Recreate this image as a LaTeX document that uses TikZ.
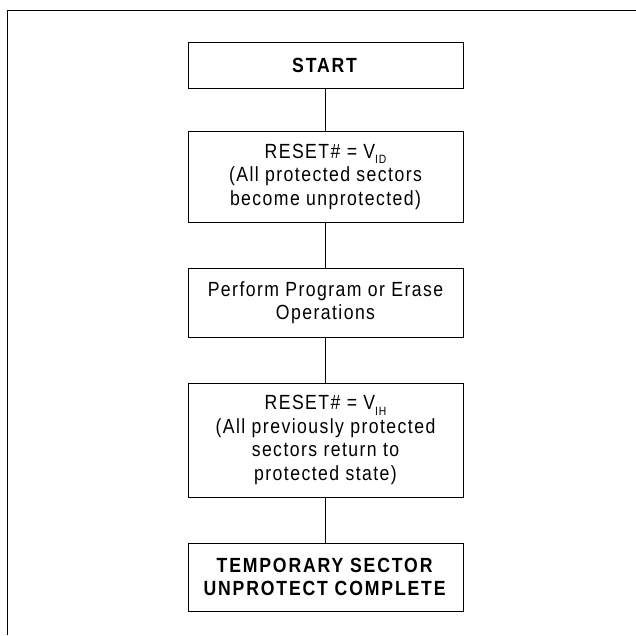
\documentclass[tikz,border=0pt]{standalone}
\usepackage{fontspec}
\setmainfont{Liberation Sans}[FakeStretch=0.86,LetterSpace=7,BoldFeatures={LetterSpace=9}]
\newcommand{\subtxt}[1]{\raisebox{-5.6pt}{\fontsize{12}{12}\selectfont #1}}
\begin{document}
\begin{tikzpicture}[x=1pt,y=1pt,
  flowbox/.style={draw=black,line width=1pt,minimum width=275pt,inner sep=0pt,align=center,
    font=\fontsize{20.5}{23.5}\selectfont},
  conn/.style={line width=1.2pt,black},
  frameline/.style={line width=1.5pt,black}]
\useasboundingbox (0,0) rectangle (636,-635);
\coordinate (ftr) at (636,-10.5);
\coordinate (ftl) at (7.5,-10.5);
\coordinate (fbl) at (7.5,-635);
\draw[frameline] (ftr) -- (ftl) -- (fbl);
\node[flowbox,minimum height=46pt] (b1) at (325.5,-65) {\textbf{START}};
\node[flowbox,minimum height=91pt] (b2) at (325.5,-176.5) {RESET\# = V\subtxt{ID}\\(All protected sectors\\become unprotected)};
\node[flowbox,minimum height=69pt] (b3) at (325.5,-302.5) {Perform Program or Erase\\Operations};
\node[flowbox,minimum height=114pt] (b4) at (325.5,-440) {RESET\# = V\subtxt{IH}\\(All previously protected\\sectors return to\\protected state)};
\node[flowbox,minimum height=68pt] (b5) at (325.5,-577) {\textbf{TEMPORARY SECTOR}\\\textbf{UNPROTECT COMPLETE}};
\draw[conn] (b1.south) -- (b2.north);
\draw[conn] (b2.south) -- (b3.north);
\draw[conn] (b3.south) -- (b4.north);
\draw[conn] (b4.south) -- (b5.north);
\end{tikzpicture}
\end{document}
